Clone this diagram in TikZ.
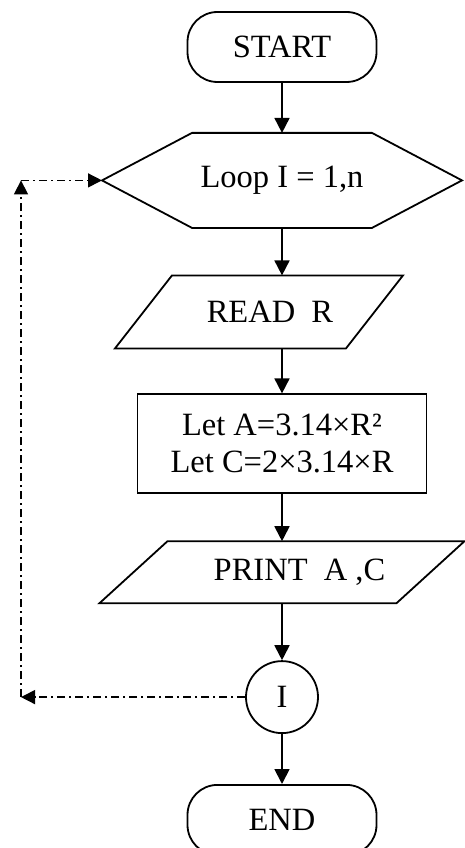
\documentclass[tikz,border=0pt]{standalone}
\usepackage{fontspec}
\setmainfont{Liberation Serif}
\usetikzlibrary{positioning,arrows.meta}

\tikzset{
  terminal/.style={draw, rounded corners=30pt, minimum width=189pt, minimum height=70pt},
  hexa/.style={minimum width=360pt, minimum height=95pt, inner sep=0pt, outer sep=0pt},
  io/.style={minimum height=73pt, inner sep=0pt, outer sep=0pt},
  process/.style={draw, minimum width=289pt, minimum height=99pt, align=center},
  connector/.style={draw, circle, minimum size=72pt, inner sep=0pt},
  flow/.style={-{Triangle[length=15pt,width=15pt]}, line width=1.8pt},
  loopback/.style={-{Triangle[length=14pt,width=14pt]}, line width=1.4pt, dash pattern=on 8pt off 4pt on 2pt off 4pt},
}

\begin{document}
\begin{tikzpicture}[x=1pt, y=-1pt, line width=1.8pt, font=\fontsize{32.5}{37}\selectfont]
\useasboundingbox (0,0) rectangle (465,848);

\node[terminal] (start) at (282,47) {START};
\node[hexa, below=50pt of start] (loop) {Loop I = 1,n\hspace{52pt}};
\node[io, minimum width=231pt, below=47.5pt of loop, xshift=-23pt] (read) {\hspace{22pt}READ\ \ R};
\node[process, below=45pt of read, xshift=23pt] (calc) {Let A=3.14×R²\\Let C=2×3.14×R};
\node[io, minimum width=297pt, minimum height=62pt, below=47pt of calc] (print) {\hspace{35pt}PRINT\ \ A ,C};
\node[connector, below=57pt of print] (ret) {I};
\node[terminal, below=50pt of ret] (end) {END};

% hexagon and parallelograms
\draw ([xshift=90pt]loop.north west) -- ([xshift=-90pt]loop.north east) -- (loop.east)
  -- ([xshift=-90pt]loop.south east) -- ([xshift=90pt]loop.south west) -- (loop.west) -- cycle;
\draw ([xshift=28.5pt]read.north west) -- ([xshift=28.5pt]read.north east)
  -- ([xshift=-28.5pt]read.south east) -- ([xshift=-28.5pt]read.south west) -- cycle;
\draw ([xshift=34pt]print.north west) -- ([xshift=34pt]print.north east)
  -- ([xshift=-34pt]print.south east) -- ([xshift=-34pt]print.south west) -- cycle;

\draw[flow] (start) -- (loop);
\draw[flow] (loop.south) -- (loop.south |- read.north);
\draw[flow] (calc.north |- read.south) -- (calc);
\draw[flow] (calc) -- (print);
\draw[flow] (print) -- (ret);
\draw[flow] (ret) -- (end);

% back to the loop
\coordinate (rail) at (21,0);
\coordinate (down) at (ret.west -| rail);
\coordinate (up) at (loop.west -| rail);
\draw[loopback] (ret.west) -- (down);
\draw[loopback] (down) -- (up);
\draw[loopback] (up) -- (loop.west);
\end{tikzpicture}
\end{document}
